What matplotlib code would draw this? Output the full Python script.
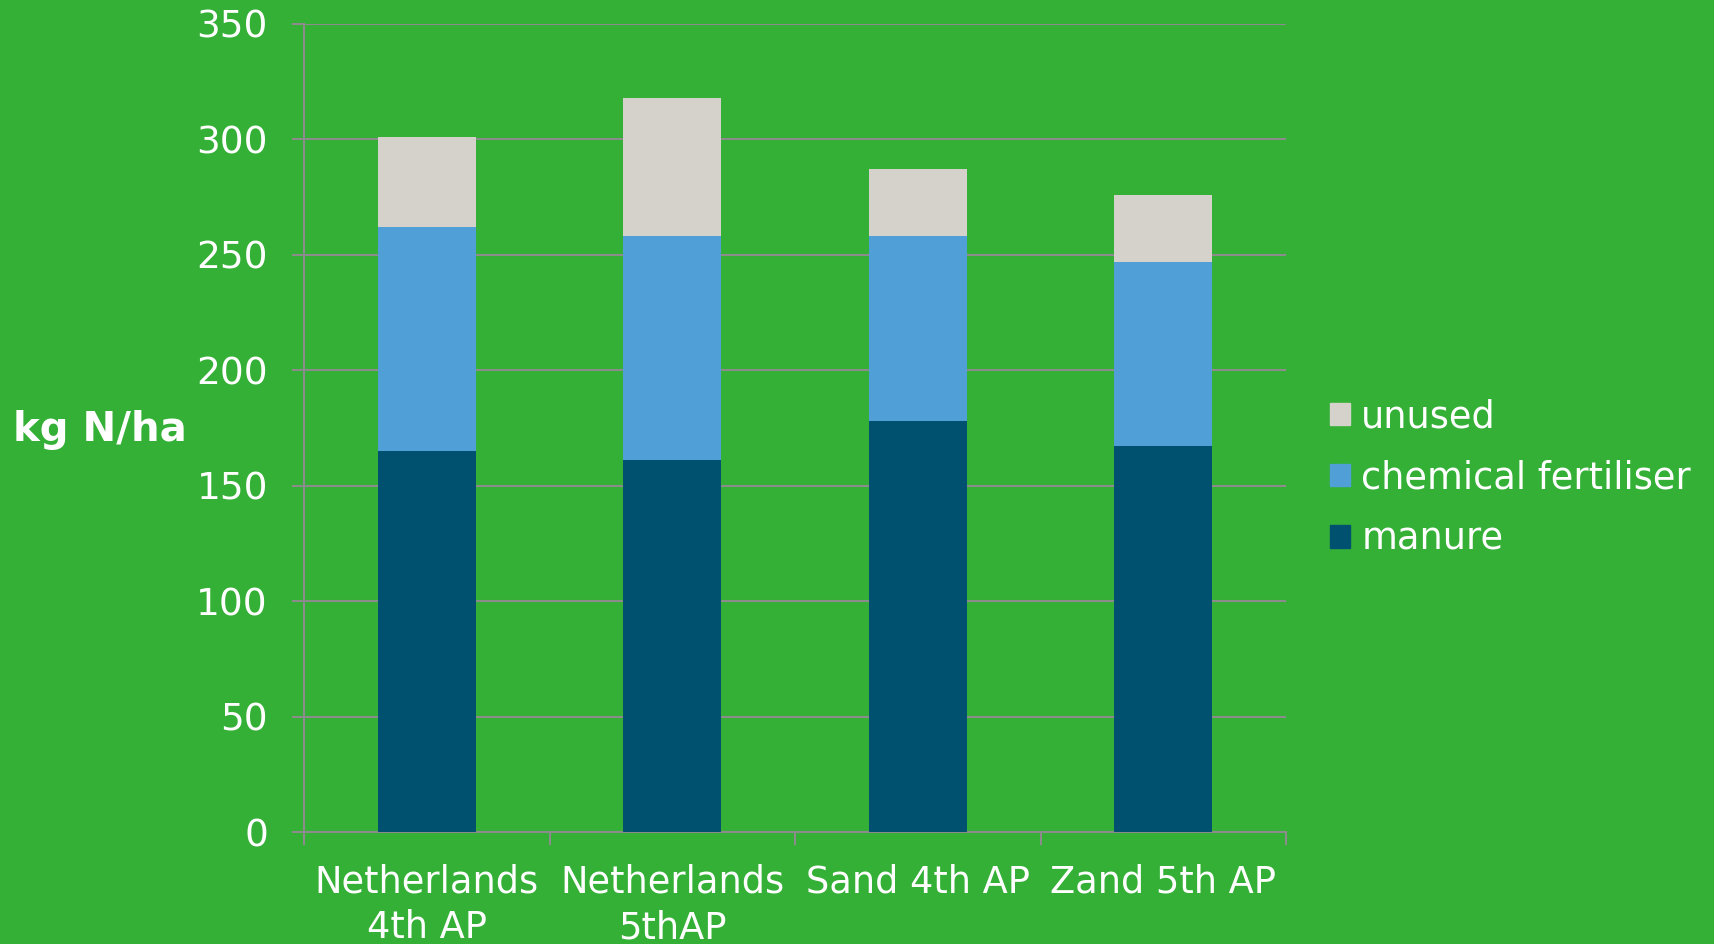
import matplotlib
matplotlib.use("Agg")
import matplotlib.pyplot as plt
from matplotlib.patches import Patch
import numpy as np

categories = ["Netherlands\n4th AP", "Netherlands\n5thAP", "Sand 4th AP", "Zand 5th AP"]
manure = [165, 161, 178, 167]
chemical_fertiliser = [97, 97, 80, 80]
unused = [39, 60, 29, 29]
y_ticks = [0, 50, 100, 150, 200, 250, 300, 350]

BG = "#33B035"
C_MANURE = "#005170"
C_CHEM = "#519FD7"
C_UNUSED = "#D5D2CC"
GRID = "#8C8C8C"

plt.rcParams["font.family"] = ["DejaVu Sans"]

fig = plt.figure(figsize=(17.15, 9.44), dpi=100, facecolor=BG)
ax = fig.add_axes([0.1773, 0.1186, 0.5726, 0.856])
ax.set_facecolor(BG)

x = np.arange(len(categories))
w = 0.4
m = np.array(manure)
c = np.array(chemical_fertiliser)
u = np.array(unused)
ax.bar(x, m, w, color=C_MANURE, zorder=3)
ax.bar(x, c, w, bottom=m, color=C_CHEM, zorder=3)
ax.bar(x, u, w, bottom=m + c, color=C_UNUSED, zorder=3)

ax.set_xlim(-0.5, len(categories) - 0.5)
ax.set_ylim(0, 350)
ax.set_yticks(y_ticks)
ax.yaxis.grid(True, color=GRID, linewidth=1.5, zorder=0)
ax.set_axisbelow(True)

for s in ["top", "right"]:
    ax.spines[s].set_visible(False)
for s in ["left", "bottom"]:
    ax.spines[s].set_color(GRID)
    ax.spines[s].set_linewidth(1.5)

ax.set_xticks(x)
ax.set_xticklabels(categories, fontsize=26.5, color="white", linespacing=1.28)
ax.set_xticks(np.arange(-0.5, len(categories)), minor=True)
ax.tick_params(axis="x", which="major", length=0, pad=23)
ax.tick_params(axis="x", which="minor", length=9, width=1.5, color=GRID)
ax.tick_params(axis="y", length=9, width=1.5, color=GRID, labelsize=27,
               labelcolor="white", pad=17)

fig.text(13 / 1715, 1 - 430 / 944, "kg N/ha", fontsize=29, fontweight="bold",
         color="white", ha="left", va="center")

handles = [Patch(color=C_UNUSED), Patch(color=C_CHEM), Patch(color=C_MANURE)]
labels = ["unused", "chemical fertiliser", "manure"]
leg = fig.legend(handles, labels, loc="upper left",
                 bbox_to_anchor=(1330 / 1715, 1 - 398 / 944),
                 frameon=False, fontsize=26.5, labelcolor="white",
                 handlelength=0.55, handleheight=0.55, handletextpad=0.3,
                 labelspacing=0.66, borderaxespad=0, borderpad=0)

fig.savefig("out.png", dpi=100, facecolor=BG)
